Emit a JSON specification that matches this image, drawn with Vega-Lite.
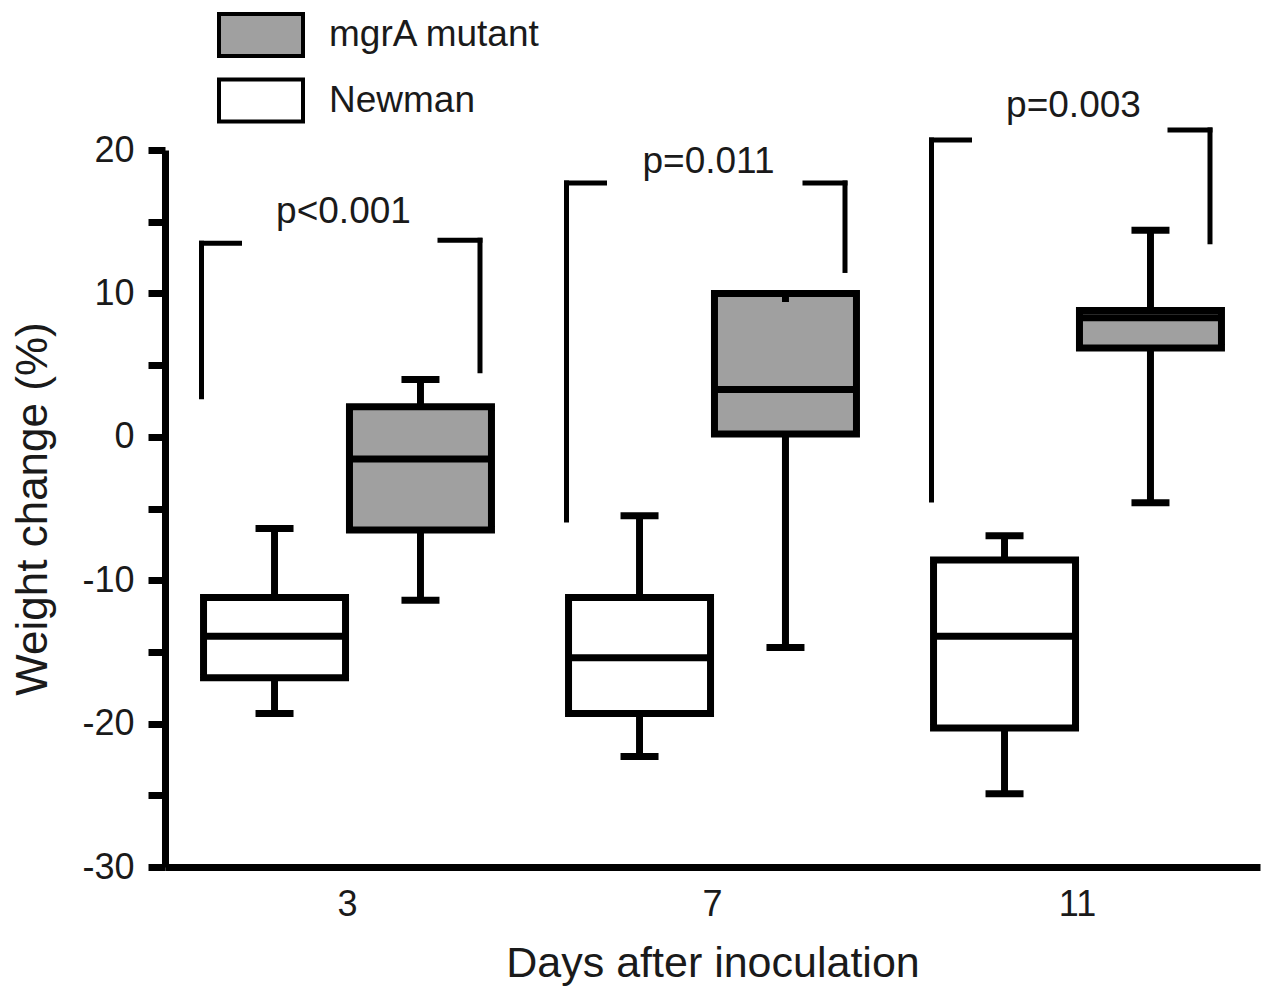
{
  "$schema": "https://vega.github.io/schema/vega-lite/v6.json",
  "width": 1095,
  "height": 717,
  "autosize": {"type": "none"},
  "padding": {"left": 165, "top": 150, "right": 9, "bottom": 121},
  "background": "white",
  "config": {
    "view": {"stroke": null},
    "font": "Liberation Sans",
    "axis": {"labelFont": "Liberation Sans", "titleFont": "Liberation Sans", "labelColor": "#1a1a1a", "titleColor": "#1a1a1a", "titleFontWeight": "normal", "grid": false, "domainColor": "black", "tickColor": "black"}
  },
  "datasets": {
    "boxes": [
      {"day": 3, "group": "Newman", "lo": -19.3, "q1": -16.8, "med": -13.9, "q3": -11.2, "hi": -6.4},
      {"day": 3, "group": "mgrA mutant", "lo": -11.4, "q1": -6.5, "med": -1.55, "q3": 2.1, "hi": 4.0},
      {"day": 7, "group": "Newman", "lo": -22.3, "q1": -19.3, "med": -15.4, "q3": -11.2, "hi": -5.5},
      {"day": 7, "group": "mgrA mutant", "lo": -14.7, "q1": 0.2, "med": 3.3, "q3": 10.0, "hi": 9.4},
      {"day": 11, "group": "Newman", "lo": -24.9, "q1": -20.3, "med": -13.9, "q3": -8.6, "hi": -6.9},
      {"day": 11, "group": "mgrA mutant", "lo": -4.6, "q1": 6.2, "med": 8.3, "q3": 8.8, "hi": 14.4}
    ],
    "brackets": [
      {"day": 3, "lbot": 2.8, "ltop": 13.5, "rbot": 4.6, "rtop": 13.7, "p": "p<0.001", "py": 15.7},
      {"day": 7, "lbot": -5.8, "ltop": 17.7, "rbot": 11.6, "rtop": 17.7, "p": "p=0.011", "py": 19.15},
      {"day": 11, "lbot": -4.4, "ltop": 20.7, "rbot": 13.6, "rtop": 21.4, "p": "p=0.003", "py": 23.1}
    ]
  },
  "layer": [
    {
      "mark": {"type": "rule", "color": "#999999", "strokeWidth": 2},
      "encoding": {"y": {"datum": 0, "type": "quantitative"}}
    },
    {
      "data": {"name": "boxes"},
      "mark": {"type": "bar", "stroke": "black", "strokeWidth": 7, "strokeJoin": "miter"},
      "encoding": {
        "x": {
          "field": "day", "type": "ordinal",
          "scale": {"paddingInner": 0, "paddingOuter": 0},
          "axis": {"title": "Days after inoculation", "labelAngle": 0, "ticks": false, "labelFontSize": 36, "labelPadding": 20, "titleFontSize": 43, "titlePadding": 20, "domainWidth": 7}
        },
        "xOffset": {"field": "group", "type": "nominal", "scale": {"domain": ["Newman", "mgrA mutant"], "paddingInner": 0.027, "paddingOuter": 0.264}},
        "y": {
          "field": "q1", "type": "quantitative",
          "scale": {"domain": [-30, 20], "nice": false, "zero": false},
          "axis": {"title": "Weight change (%)", "values": [-30, -25, -20, -15, -10, -5, 0, 5, 10, 15, 20], "labelExpr": "datum.value % 10 === 0 ? '' + datum.value : ''", "labelFontSize": 36, "labelPadding": 14, "tickSize": 17, "tickWidth": 7, "domainWidth": 7, "titleFontSize": 44, "titlePadding": 26}
        },
        "y2": {"field": "q3"},
        "fill": {
          "field": "group", "type": "nominal",
          "scale": {"domain": ["mgrA mutant", "Newman"], "range": ["#a0a0a0", "#ffffff"]},
          "legend": {"title": null, "orient": "none", "legendX": 64, "legendY": -147, "padding": 0, "symbolType": "M-1.4,-0.7H1.4V0.7H-1.4Z", "symbolSize": 3600, "symbolStrokeColor": "black", "symbolStrokeWidth": 4, "symbolOpacity": 1, "labelFontSize": 37, "labelFont": "Liberation Sans", "labelColor": "#1a1a1a", "labelOffset": 36, "labelLimit": 0, "rowPadding": 4.5}
        }
      }
    },
    {
      "data": {"name": "boxes"},
      "mark": {"type": "tick", "orient": "horizontal", "size": 142, "thickness": 7, "color": "black", "opacity": 1},
      "encoding": {
        "x": {"field": "day", "type": "ordinal"},
        "xOffset": {"field": "group", "type": "nominal"},
        "y": {"field": "med", "type": "quantitative"}
      }
    },
    {
      "data": {"name": "boxes"},
      "mark": {"type": "rule", "color": "black", "strokeWidth": 7},
      "encoding": {
        "x": {"field": "day", "type": "ordinal"},
        "xOffset": {"field": "group", "type": "nominal"},
        "y": {"field": "q3", "type": "quantitative"},
        "y2": {"field": "hi"}
      }
    },
    {
      "data": {"name": "boxes"},
      "mark": {"type": "rule", "color": "black", "strokeWidth": 7},
      "encoding": {
        "x": {"field": "day", "type": "ordinal"},
        "xOffset": {"field": "group", "type": "nominal"},
        "y": {"field": "q1", "type": "quantitative"},
        "y2": {"field": "lo"}
      }
    },
    {
      "data": {"name": "boxes"},
      "transform": [{"filter": "datum.hi > datum.q3"}],
      "mark": {"type": "tick", "orient": "horizontal", "size": 38, "thickness": 7, "color": "black", "opacity": 1},
      "encoding": {
        "x": {"field": "day", "type": "ordinal"},
        "xOffset": {"field": "group", "type": "nominal"},
        "y": {"field": "hi", "type": "quantitative"}
      }
    },
    {
      "data": {"name": "boxes"},
      "mark": {"type": "tick", "orient": "horizontal", "size": 38, "thickness": 7, "color": "black", "opacity": 1},
      "encoding": {
        "x": {"field": "day", "type": "ordinal"},
        "xOffset": {"field": "group", "type": "nominal"},
        "y": {"field": "lo", "type": "quantitative"}
      }
    },
    {
      "data": {"name": "brackets"},
      "mark": {"type": "rule", "color": "black", "strokeWidth": 5, "strokeCap": "square"},
      "encoding": {
        "x": {"field": "day", "type": "ordinal", "bandPosition": 0.1},
        "y": {"field": "lbot", "type": "quantitative"},
        "y2": {"field": "ltop"}
      }
    },
    {
      "data": {"name": "brackets"},
      "mark": {"type": "rule", "color": "black", "strokeWidth": 5, "strokeCap": "square", "x2Offset": 38},
      "encoding": {
        "x": {"field": "day", "type": "ordinal", "bandPosition": 0.1},
        "x2": {"field": "day", "bandPosition": 0.1},
        "y": {"field": "ltop", "type": "quantitative"}
      }
    },
    {
      "data": {"name": "brackets"},
      "mark": {"type": "rule", "color": "black", "strokeWidth": 5, "strokeCap": "square"},
      "encoding": {
        "x": {"field": "day", "type": "ordinal", "bandPosition": 0.863},
        "y": {"field": "rbot", "type": "quantitative"},
        "y2": {"field": "rtop"}
      }
    },
    {
      "data": {"name": "brackets"},
      "mark": {"type": "rule", "color": "black", "strokeWidth": 5, "strokeCap": "square", "xOffset": -40},
      "encoding": {
        "x": {"field": "day", "type": "ordinal", "bandPosition": 0.863},
        "x2": {"field": "day", "bandPosition": 0.863},
        "y": {"field": "rtop", "type": "quantitative"}
      }
    },
    {
      "data": {"name": "brackets"},
      "mark": {"type": "text", "fontSize": 37, "font": "Liberation Sans", "color": "#1a1a1a", "baseline": "middle", "align": "center", "dx": -4},
      "encoding": {
        "x": {"field": "day", "type": "ordinal"},
        "y": {"field": "py", "type": "quantitative"},
        "text": {"field": "p"}
      }
    }
  ]
}
